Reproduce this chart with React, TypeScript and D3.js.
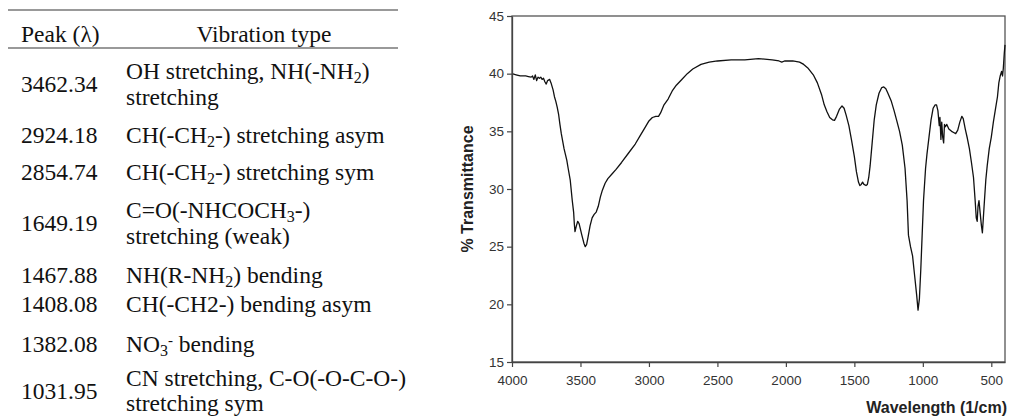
import React, { useEffect, useRef } from 'react';
import * as d3 from 'd3';

// table rows
const peaks = ['3462.34', '2924.18', '2854.74', '1649.19', '1467.88', '1408.08', '1382.08', '1031.95'];

// spectrum
const wavenumbers = [
  4000, 3970, 3940, 3900, 3880, 3860, 3850, 3840, 3830, 3820, 3810, 3800, 3790, 3780, 3770, 3760, 3750, 3740,
  3725, 3715, 3700, 3690, 3680, 3670, 3660, 3650, 3640, 3620, 3610, 3600, 3590, 3575, 3560, 3550, 3545, 3540,
  3530, 3520, 3510, 3500, 3490, 3475, 3465, 3455, 3445, 3430, 3415, 3400, 3385, 3370, 3355, 3340, 3320, 3300,
  3270, 3240, 3200, 3150, 3100, 3065, 3030, 3000, 2975, 2950, 2930, 2915, 2890, 2860, 2830, 2800, 2760, 2720,
  2680, 2620, 2560, 2500, 2400, 2300, 2200, 2100, 2050, 2030, 2010, 1980, 1950, 1900, 1870, 1840, 1800, 1770,
  1740, 1720, 1700, 1680, 1660, 1645, 1630, 1610, 1590, 1575, 1560, 1540, 1520, 1500, 1485, 1470, 1460, 1450,
  1440, 1430, 1415, 1405, 1395, 1385, 1370, 1355, 1340, 1320, 1300, 1285, 1270, 1255, 1230, 1210, 1190, 1170,
  1150, 1130, 1115, 1105, 1090, 1075, 1060, 1045, 1035, 1025, 1015, 1005, 995, 980, 970, 955, 940, 925,
  910, 900, 890, 880, 875, 868, 862, 855, 848, 842, 835, 825, 810, 790, 775, 760, 745, 730,
  715, 705, 690, 675, 660, 645, 630, 618, 610, 603, 597, 590, 582, 572, 565, 558, 550, 540,
  530, 515, 500, 485, 470, 455, 445, 435, 425, 418, 412, 405, 400,
];
const transmittance = [
  40.0, 39.9, 39.8, 39.8, 39.75, 39.7, 39.8, 39.5, 39.9, 39.4, 39.7, 39.6, 39.7, 39.5, 39.6, 39.3, 39.1, 39.4,
  39.5, 39.2, 38.6, 38.0, 37.6, 37.1, 36.5, 35.6, 34.8, 33.5, 33.0, 32.5, 31.8, 30.8, 29.0, 28.0, 27.0, 26.3,
  26.8, 27.2, 27.0, 26.5, 26.0, 25.3, 25.0, 25.2, 25.8, 26.8, 27.5, 27.8, 28.0, 28.5, 29.3, 29.9, 30.5, 30.9,
  31.3, 31.7, 32.3, 33.1, 33.9, 34.6, 35.3, 35.9, 36.2, 36.3, 36.3, 36.6, 37.3, 37.8, 38.5, 39.0, 39.5, 40.0,
  40.4, 40.8, 41.0, 41.1, 41.2, 41.2, 41.3, 41.2, 41.1, 41.0, 41.1, 41.1, 41.1, 41.0, 40.8, 40.5, 39.9, 39.2,
  38.2, 37.3, 36.7, 36.2, 36.0, 35.95, 36.3, 36.9, 37.2, 37.0, 36.4, 35.5, 34.2, 32.8, 31.5, 30.6, 30.3, 30.4,
  30.6, 30.4, 30.3, 30.4, 31.0, 32.0, 34.0, 36.0, 37.3, 38.3, 38.8, 38.85, 38.7, 38.3, 37.6, 36.8, 35.9, 35.0,
  33.8, 31.8, 29.0, 26.0, 25.0, 24.2, 22.5, 20.8, 19.5, 20.5, 23.0, 26.0, 29.0, 31.8, 33.0, 34.5, 36.0, 37.0,
  37.3, 37.3, 36.8, 35.5, 36.2, 34.3, 35.8, 34.5, 34.0, 35.6, 35.4, 35.6, 35.2, 35.0, 34.9, 34.8, 35.1, 35.8,
  36.3, 36.1, 35.2, 34.4, 33.5, 32.3, 31.0, 29.0, 27.5, 27.2, 28.5, 29.0, 28.0, 26.8, 26.2, 27.5, 29.0, 30.8,
  32.0, 33.5, 34.5, 35.8, 36.9, 38.0, 39.2, 39.8, 40.2, 39.8, 40.5, 41.8, 42.5,
];

const xTicks = [4000, 3500, 3000, 2500, 2000, 1500, 1000, 500];
const yTicks = [15, 20, 25, 30, 35, 40, 45];

const serif = '"Liberation Serif", "Times New Roman", serif';
const sans = '"Liberation Sans", Arial, sans-serif';

const Sub = ({ t }: { t: string }) => (
  <tspan baselineShift="-25%" fontSize="16">{t}</tspan>
);

const Sup = ({ t }: { t: string }) => (
  <tspan baselineShift="50%" fontSize="15">{t}</tspan>
);

const App = () => {
  const xAxisRef = useRef<SVGGElement>(null);
  const yAxisRef = useRef<SVGGElement>(null);

  const left = 512, right = 1005, top = 16, bottom = 362;
  const x = d3.scaleLinear().domain([4000, 400]).range([left, right]);
  const y = d3.scaleLinear().domain([15, 45]).range([bottom, top]);

  const pts = wavenumbers.map((w, i) => [w, transmittance[i]] as [number, number]);
  const line = d3.line<[number, number]>().x((d) => x(d[0])).y((d) => y(d[1]));

  useEffect(() => {
    const xa = d3.select(xAxisRef.current);
    xa.call(d3.axisBottom(x).tickValues(xTicks).tickFormat(d3.format('d')).tickSize(5).tickSizeOuter(0).tickPadding(8));
    const ya = d3.select(yAxisRef.current);
    ya.call(d3.axisLeft(y).tickValues(yTicks).tickFormat(d3.format('d')).tickSize(5).tickSizeOuter(0).tickPadding(3));
    [xa, ya].forEach((g) => {
      g.select('.domain').attr('stroke', '#444').attr('stroke-width', 1.3);
      g.selectAll('.tick line').attr('stroke', '#444').attr('stroke-width', 1.2);
      g.selectAll('.tick text')
        .attr('fill', '#333')
        .style('font-family', sans)
        .style('font-size', '13.5px');
    });
  }, []);

  const numX = 21;
  const colX = 126;

  return (
    <svg width={1010} height={419} style={{ position: 'absolute', left: 0, top: 0, background: '#fff' }}>
      {/* table */}
      <g fontFamily={serif} fontSize="23.5" fill="#111">
        <line x1={8} x2={398} y1={10} y2={10} stroke="#777" strokeWidth={1.5} />
        <line x1={8} x2={398} y1={48} y2={48} stroke="#777" strokeWidth={1.5} />
        <text x={numX} y={42}>Peak (λ)</text>
        <text x={264} y={42} textAnchor="middle">Vibration type</text>

        <text x={numX} y={92}>{peaks[0]}</text>
        <text x={colX} y={79}>OH stretching, NH(-NH<Sub t="2" />)</text>
        <text x={colX} y={105}>stretching</text>

        <text x={numX} y={143}>{peaks[1]}</text>
        <text x={colX} y={143}>CH(-CH<Sub t="2" />-) stretching asym</text>

        <text x={numX} y={180}>{peaks[2]}</text>
        <text x={colX} y={180}>CH(-CH<Sub t="2" />-) stretching sym</text>

        <text x={numX} y={231}>{peaks[3]}</text>
        <text x={colX} y={218}>C=O(-NHCOCH<Sub t="3" />-)</text>
        <text x={colX} y={244}>stretching (weak)</text>

        <text x={numX} y={283}>{peaks[4]}</text>
        <text x={colX} y={283}>NH(R-NH<Sub t="2" />) bending</text>

        <text x={numX} y={312}>{peaks[5]}</text>
        <text x={colX} y={312}>CH(-CH2-) bending asym</text>

        <text x={numX} y={352}>{peaks[6]}</text>
        <text x={colX} y={352}>NO<Sub t="3" /><Sup t="-" /> bending</text>

        <text x={numX} y={399}>{peaks[7]}</text>
        <text x={colX} y={386}>CN stretching, C-O(-O-C-O-)</text>
        <text x={colX} y={411}>stretching sym</text>
      </g>

      {/* chart */}
      <rect x={left} y={top} width={right - left} height={bottom - top} fill="none" stroke="#555" strokeWidth={1.3} />
      <path d={line(pts) ?? ''} fill="none" stroke="#111" strokeWidth={1.3} strokeLinejoin="round" />
      <g ref={xAxisRef} transform={`translate(0,${bottom})`} />
      <g ref={yAxisRef} transform={`translate(${left},0)`} />
      <text
        transform={`translate(473,${(top + bottom) / 2}) rotate(-90)`}
        textAnchor="middle"
        fontFamily={sans}
        fontWeight="bold"
        fontSize="16"
        fill="#222"
      >
        % Transmittance
      </text>
      <text x={1007} y={413} textAnchor="end" fontFamily={sans} fontWeight="bold" fontSize="16" fill="#222">
        Wavelength (1/cm)
      </text>
    </svg>
  );
};

export default App;
